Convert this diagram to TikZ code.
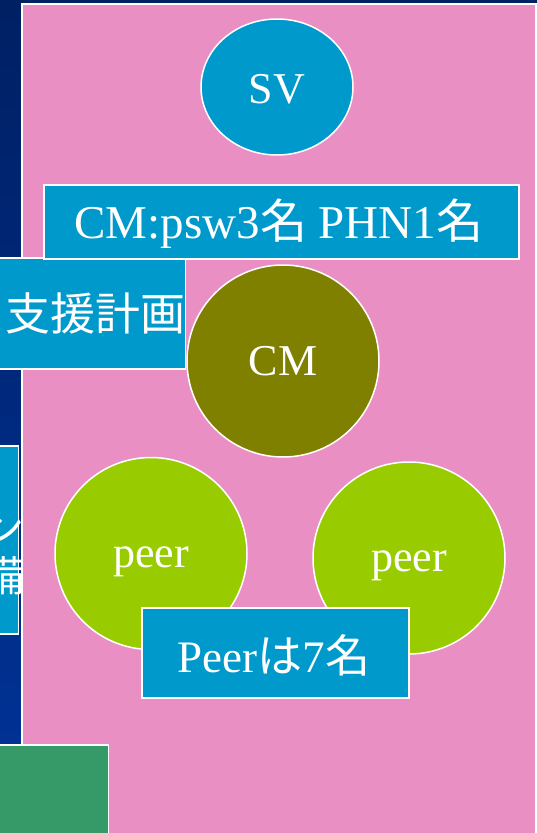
\documentclass[tikz,border=0pt]{standalone}
\usepackage{fontspec}
\setmainfont{Liberation Serif}
\newfontfamily\cjk{Noto Sans CJK JP}
\usetikzlibrary{shapes.geometric}
\definecolor{pinkbg}{RGB}{234,143,196}
\definecolor{cyanbox}{RGB}{0,153,204}
\definecolor{olivec}{RGB}{128,128,0}
\definecolor{limec}{RGB}{153,204,0}
\definecolor{greenbox}{RGB}{54,153,104}
\definecolor{navytop}{RGB}{0,32,100}
\definecolor{navybot}{RGB}{0,51,153}
\tikzset{
  box/.style={draw=white, line width=1.5pt, fill=cyanbox, inner sep=0pt, rectangle},
  circ/.style={draw=white, line width=1.5pt, circle, inner sep=0pt, minimum size=192pt, text=white},
  lbl/.style={text=white, inner sep=0pt, font=\fontsize{44}{50}\selectfont},
  blbl/.style={text=white, inner sep=0pt, font=\fontsize{45}{52}\selectfont},
}
\begin{document}
\begin{tikzpicture}[x=1pt,y=-1pt]
\clip (0,0) rectangle (537,833);
\useasboundingbox (0,0) rectangle (537,833);
% background
\shade[top color=navytop, bottom color=navybot] (0,0) rectangle (537,833);
% pink panel
\node[draw=white, line width=1.5pt, fill=pinkbg, rectangle, inner sep=0pt,
  minimum width=514pt, minimum height=860pt, anchor=north west] (panel) at (21,3) {};
% left boxes
\node[box, minimum width=230pt, minimum height=111pt, anchor=north east] (plan) at (186,257) {};
\node[blbl, anchor=east, font=\cjk\fontsize{45}{52}\selectfont] (plantxt) at (plan.east) {支援計画};
\node[box, minimum width=100pt, minimum height=188pt, anchor=north east] (prep) at (19,445) {};
\node[text=white, inner sep=0pt, anchor=east, align=right, font=\cjk\fontsize{42}{48}\selectfont] (preptxt) at (25,552) {プラン\\準備};
\node[draw=white, line width=1.5pt, fill=greenbox, rectangle, inner sep=0pt,
  minimum width=130pt, minimum height=120pt, anchor=north east] (gbox) at (109,744) {};
% SV
\node[ellipse, draw=white, line width=1.5pt, fill=cyanbox, minimum width=152pt, minimum height=136pt, inner sep=0pt] (sv) at (277,87) {};
\node[lbl] at (277,89) {SV};
% CM box
\node[box, minimum width=475pt, minimum height=74pt] (cmbox) at (281.5,222) {};
\node[blbl, font=\fontsize{47}{52}\selectfont] at (279,224) {CM:psw3{\cjk 名} PHN1{\cjk 名}};
% CM circle
\node[circ, fill=olivec] (cm) at (283,361) {};
\node[lbl] at (cm) {CM};
% peers
\node[circ, fill=limec] (peerL) at (151,553.5) {};
\node[lbl] at (151,562) {peer};
\node[circ, fill=limec] (peerR) at (409,558) {};
\node[lbl] at (409,566) {peer};
% Peer box
\node[box, minimum width=267pt, minimum height=90pt] (peerbox) at (275.5,653) {};
\node[blbl] at (274,655) {Peer{\cjk は}7{\cjk 名}};
\end{tikzpicture}
\end{document}
